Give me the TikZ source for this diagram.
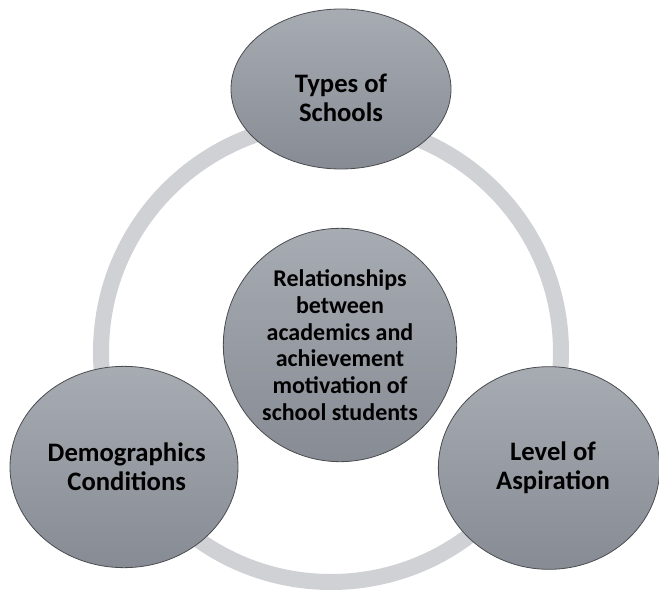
\documentclass[tikz,border=0pt]{standalone}
\usepackage{fontspec}
\setmainfont{Carlito}
\usetikzlibrary{shapes.geometric}
\definecolor{ringgray}{HTML}{CFD1D5}
\definecolor{bubtop}{HTML}{A7ABB2}
\definecolor{bubbot}{HTML}{878B93}
\definecolor{bubedge}{HTML}{4A4C50}
\tikzset{
  bubble/.style={ellipse, draw=bubedge, line width=0.6pt, top color=bubtop,
    bottom color=bubbot, inner sep=0pt},
  bubbletext/.style={align=center, inner sep=0pt, text=black,
    font=\fontsize{20}{22}\selectfont\bfseries},
  coretext/.style={bubbletext, font=\fontsize{18}{20}\selectfont\bfseries},
}
\begin{document}
\begin{tikzpicture}[x=0.75pt,y=-0.75pt]
  \useasboundingbox (0,0) rectangle (659,591);
  % connecting ring behind the bubbles
  \draw[ringgray, line width=12pt] (331,352) circle[radius=230];
  % centre topic
  \node[bubble, minimum width=175pt, minimum height=175pt] (core) at (340,345) {};
  \node[coretext] (core-text) at (core.center)
    {Relationships\\between\\academics and\\achievement\\motivation of\\school students};
  % surrounding factors
  \node[bubble, minimum width=165pt, minimum height=120pt] (types) at (341,89) {};
  \node[bubbletext] (types-text) at ([yshift=-6.5pt]types.center) {Types of\\Schools};
  \node[bubble, minimum width=171pt, minimum height=151pt] (demo) at (124,467) {};
  \node[bubbletext] (demo-text) at ([xshift=2pt]demo.center) {Demographics\\Conditions};
  \node[bubble, minimum width=166pt, minimum height=152pt] (level) at (549,468) {};
  \node[bubbletext] (level-text) at ([xshift=3pt]level.center) {Level of\\Aspiration};
\end{tikzpicture}
\end{document}
